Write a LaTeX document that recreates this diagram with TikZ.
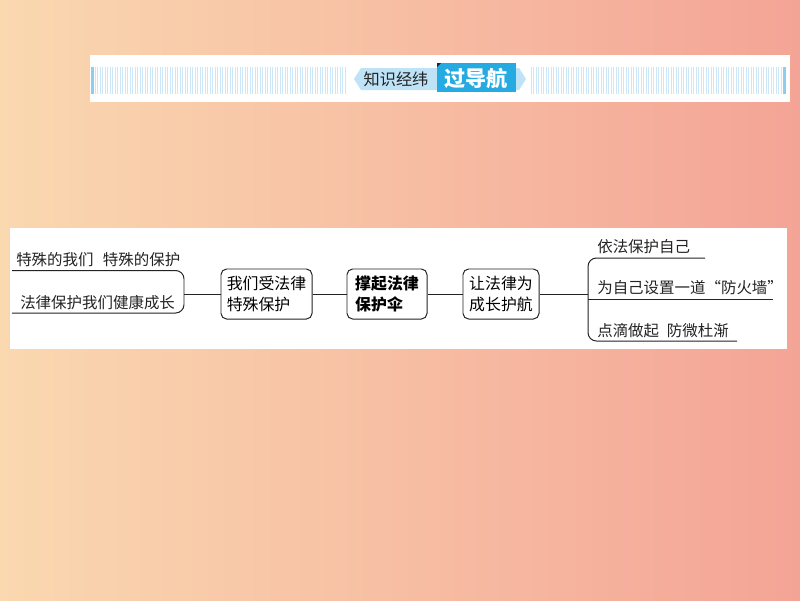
\documentclass[tikz,border=0pt]{standalone}
\usepackage{fontspec}
\newfontfamily\cjk{Noto Sans CJK SC}
\usetikzlibrary{positioning}
\definecolor{bgleft}{RGB}{250,216,176}
\definecolor{bgright}{RGB}{244,164,150}
\definecolor{stripeblue}{RGB}{204,232,248}
\definecolor{edgeblue}{RGB}{140,205,240}
\definecolor{badgelight}{RGB}{190,227,247}
\definecolor{badgedark}{RGB}{38,170,226}
\definecolor{inkgray}{RGB}{35,35,35}
\tikzset{
  topic/.style={draw=inkgray, line width=0.7pt, rounded corners=4pt, align=left,
    inner sep=0pt, minimum height=1.25cm, font=\cjk\fontsize{11.3}{15.5}\selectfont},
  leaf/.style={anchor=west, inner sep=0pt, text=inkgray, font=\cjk\fontsize{11}{12}\selectfont},
  link/.style={draw=inkgray, line width=0.7pt},
  stripe/.style={draw=stripeblue, line width=0.7pt}
}
\begin{document}
\begin{tikzpicture}[x=0.025cm, y=-0.025cm]
    \useasboundingbox (0,0) rectangle (800,600);
    % background and white panels
    \shade[left color=bgleft, right color=bgright] (0,0) rectangle (800,600);
    \fill[white] (90,55) rectangle (790,102);
    \fill[white] (10,228) rectangle (787,349);

    % banner stripes
    \foreach \x in {95,97.5,...,347}
        \draw[stripe] (\x,67) -- (\x,94);
    \foreach \x in {531,533.5,...,781}
        \draw[stripe] (\x,67) -- (\x,94);
    \fill[edgeblue] (91,67) rectangle (93.5,94);
    \fill[edgeblue] (783,67) rectangle (785.5,94);

    % banner badge
    \fill[badgelight] (354,79) -- (361,68) -- (437,68) -- (437,90) -- (361,90) -- cycle;
    \fill[badgelight] (515,68) -- (519,68) -- (526,79) -- (519,90) -- (515,90) -- cycle;
    \fill[badgedark] (437,63) rectangle (516,92);
    \fill[inkgray] (437,63) -- (441,63) -- (437,67) -- cycle;
    \node[text=inkgray, font=\cjk\fontsize{11.5}{12}\selectfont] (guide) at (396,79) {知识经纬};
    \node[text=white, font=\cjk\bfseries\fontsize{15}{16}\selectfont] (nav) at (476,78) {过导航};

    % main topics
    \node[topic, minimum width=2.275cm] (protect) at (266.5,294) {我们受法律\\特殊保护};
    \node[topic, minimum width=2cm, font=\cjk\bfseries\fontsize{11.3}{15.5}\selectfont] (umbrella) at (387,294) {撑起法律\\保护伞};
    \node[topic, minimum width=1.9cm] (escort) at (501,294) {让法律为\\成长护航};

    % left leaves
    \node[leaf] (special) at (16,260) {特殊的我们\hspace{0.6em}特殊的保护};
    \node[leaf] (healthy) at (20,303) {法律保护我们健康成长};
    \coordinate (lbrace) at (184,294);
    \draw[link, rounded corners=6pt] (12,270.5) -| (184,313) -- (12,313);

    % right leaves
    \node[leaf] (self) at (597,247) {依法保护自己};
    \node[leaf] (wall) at (597,288) {为自己设置一道“防火墙”};
    \node[leaf] (drops) at (597,331) {点滴做起\hspace{0.5em}防微杜渐};
    \coordinate (rbrace) at (588,294);
    \draw[link, rounded corners=6pt] (705,258) -| (588,341) -- (737,341);
    \draw[link] (588,299) -- (773,299);

    % connectors
    \foreach \source/\dest in {lbrace/protect, protect/umbrella, umbrella/escort, escort/rbrace}
        \path[link] (\source) -- (\dest);
\end{tikzpicture}
\end{document}
